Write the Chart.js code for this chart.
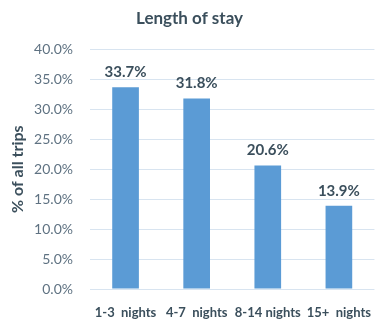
<!DOCTYPE html>
<html>
<head>
<meta charset="utf-8">
<script src="https://cdn.jsdelivr.net/npm/chart.js@4"></script>
<style>
  html, body { margin: 0; padding: 0; background: #ffffff; }
  #wrap { width: 379px; height: 321px; position: relative; }
</style>
</head>
<body>
<div id="wrap"><canvas id="stayChart"></canvas></div>
<script>
// Length of stay, share of all trips
const categories = ['1-3  nights', '4-7  nights', '8-14 nights', '15+  nights'];
const shares = [33.7, 31.8, 20.6, 13.9];
const yTicks = [0, 5, 10, 15, 20, 25, 30, 35, 40];

const FONT = 'Lato, "Open Sans", sans-serif';
const DARK = '#3b4f5c';
const TICK = '#5f7282';

// value labels above each bar
const barLabels = {
    id: 'barLabels',
    afterDatasetsDraw(chart) {
        const ctx = chart.ctx;
        const meta = chart.getDatasetMeta(0);
        ctx.save();
        ctx.font = 'bold 15px ' + FONT;
        ctx.fillStyle = DARK;
        ctx.textAlign = 'center';
        ctx.textBaseline = 'middle';
        meta.data.forEach((bar, i) => {
            ctx.fillText(shares[i].toFixed(1) + '%', bar.x, bar.y - 15);
        });
        ctx.restore();
    }
};

new Chart(document.getElementById('stayChart'), {
    type: 'bar',
    data: {
        labels: categories,
        datasets: [{
            data: shares,
            backgroundColor: '#5b9bd5',
            categoryPercentage: 1,
            barPercentage: 0.375
        }]
    },
    options: {
        responsive: true,
        maintainAspectRatio: false,
        animation: false,
        layout: { padding: { top: 0, right: 0, bottom: 0, left: 0 } },
        plugins: {
            legend: { display: false },
            tooltip: { enabled: false },
            title: {
                display: true,
                text: 'Length of stay',
                color: DARK,
                font: { family: FONT, size: 17, weight: 'bold' },
                padding: { top: 8, bottom: 21 }
            }
        },
        scales: {
            x: {
                grid: { display: false },
                border: { display: false },
                ticks: {
                    color: DARK,
                    font: { family: FONT, size: 13, weight: 'bold' },
                    maxRotation: 0,
                    autoSkip: false,
                    padding: 8
                },
                afterFit(scale) { scale.height = 32; }
            },
            y: {
                min: 0,
                max: 40,
                afterBuildTicks(scale) { scale.ticks = yTicks.map(v => ({ value: v })); },
                grid: { color: '#d8e4f0', drawTicks: false },
                border: { display: false },
                ticks: {
                    color: TICK,
                    font: { family: FONT, size: 14 },
                    padding: 17,
                    callback: v => v.toFixed(1) + '%'
                },
                title: {
                    display: true,
                    text: '% of all trips',
                    color: DARK,
                    font: { family: FONT, size: 16, weight: 'bold' },
                    padding: { top: 8, bottom: 0 }
                },
                afterFit(scale) { scale.width = 90; }
            }
        }
    },
    plugins: [barLabels]
});
</script>
</body>
</html>
